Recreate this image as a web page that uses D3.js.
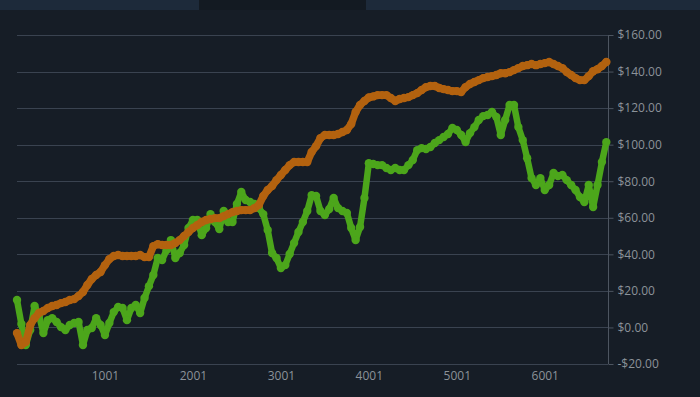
<!DOCTYPE html>
<html>
<head>
<meta charset="utf-8">
<script src="https://cdn.jsdelivr.net/npm/d3@7/dist/d3.min.js"></script>
<style>
  html, body { margin: 0; padding: 0; background: #161d26; }
  svg { display: block; }
</style>
</head>
<body>
<svg id="chart" width="700" height="397"></svg>
<script>
// ---- data ----
const tradeStart = 1;
const tradeStep = 50;
const xTickValues = [1001, 2001, 3001, 4001, 5001, 6001];
const yTickValues = [-20, 0, 20, 40, 60, 80, 100, 120, 140, 160];

// equity curve A (orange)
const seriesOrange = [
  -3.1, -9.6, -8.0, 1.3, 5.1, 7.9, 9.0, 10.6, 11.7, 12.3, 13.3, 13.9, 15.0, 15.5, 17.2, 19.4, 23.2, 26.5, 28.7, 30.3,
  34.1, 37.4, 39.1, 39.6, 39.1, 39.1, 39.1, 39.1, 39.6, 38.5, 38.5, 44.5, 45.6, 45.1, 45.1, 45.1, 46.2, 47.8, 50.0, 52.2,
  54.4, 56.0, 57.7, 58.8, 59.3, 59.8, 59.8, 60.9, 62.0, 63.1, 63.7, 64.2, 64.2, 64.2, 65.3, 67.0, 71.9, 75.2, 77.4, 80.6,
  83.4, 86.1, 88.8, 90.5, 90.5, 90.5, 90.5, 96.0, 99.2, 103.6, 105.3, 105.3, 105.3, 105.8, 106.9, 108.0, 111.3, 117.9, 121.7, 123.9,
  125.8, 126.4, 127.1, 127.1, 127.1, 125.5, 123.9, 125.0, 125.5, 126.0, 127.1, 128.2, 129.9, 131.5, 132.1, 132.1, 131.0, 130.4, 129.9, 129.3,
  129.3, 128.8, 131.5, 133.2, 134.3, 135.3, 136.4, 137.0, 137.5, 138.1, 139.1, 139.1, 139.7, 140.8, 141.9, 143.0, 143.5, 144.1, 143.5, 144.1,
  144.6, 145.2, 144.1, 143.0, 141.9, 139.7, 138.1, 136.4, 135.3, 135.3, 137.5, 140.2, 141.3, 143.0, 145.2
];

// equity curve B (green)
const seriesGreen = [
  15.0, 1.9, -9.6, -1.4, 11.7, 6.8, -3.1, 4.0, 5.1, 3.0, 0.2, -1.4, 1.3, 2.4, 3.0, -9.6, -1.4, -0.3, 5.1, 1.3,
  -4.2, 2.4, 8.4, 11.2, 10.6, 4.0, 10.6, 12.3, 7.9, 16.1, 22.6, 28.7, 38.0, 36.9, 42.3, 47.8, 38.0, 40.7, 45.1, 54.4,
  58.8, 58.8, 50.5, 54.4, 62.0, 57.7, 53.8, 63.7, 57.7, 57.7, 67.5, 74.1, 69.7, 68.6, 67.5, 65.3, 62.0, 53.3, 40.7, 38.0,
  32.5, 34.1, 40.2, 46.2, 52.2, 57.7, 63.7, 72.4, 71.9, 63.7, 61.5, 64.8, 70.8, 65.3, 63.7, 62.6, 54.4, 47.8, 55.0, 70.8,
  89.9, 89.4, 88.8, 88.8, 87.2, 86.1, 87.2, 86.1, 86.1, 88.8, 91.6, 97.0, 98.1, 97.6, 98.7, 100.9, 102.5, 104.2, 105.8, 109.1,
  108.0, 105.3, 101.4, 106.3, 109.6, 113.5, 115.6, 116.2, 117.9, 115.1, 105.3, 113.5, 121.7, 121.7, 109.6, 102.5, 92.6, 81.7, 77.9, 81.7,
  75.2, 77.9, 84.5, 82.8, 83.4, 80.6, 77.9, 75.2, 71.3, 68.6, 77.9, 65.9, 77.9, 90.5, 101.4
];

// ---- drawing ----
const W = 700, H = 397;
const svg = d3.select("#chart");
const colors = { bg: "#161d26", tabLight: "#1d2a3a", tabDark: "#131a22", grid: "#3a4350", axis: "#4d5560", text: "#8b9299",
                 orange: "#b3620f", green: "#4ca61b" };

svg.append("rect").attr("width", W).attr("height", H).attr("fill", colors.bg);
// top tab strip
svg.append("rect").attr("x", 0).attr("y", 0).attr("width", 199).attr("height", 10).attr("fill", colors.tabLight);
svg.append("rect").attr("x", 199).attr("y", 0).attr("width", 167).attr("height", 10).attr("fill", colors.tabDark);
svg.append("rect").attr("x", 366).attr("y", 0).attr("width", 334).attr("height", 10).attr("fill", colors.tabLight);

const x = d3.scaleLinear().domain([tradeStart, 6720]).range([17, 608]);
const y = d3.scaleLinear().domain([-20, 160]).range([364, 35]);

// gridlines
svg.append("g").selectAll("line").data(yTickValues).join("line")
  .attr("x1", 17).attr("x2", 608)
  .attr("y1", d => Math.round(y(d)) + 0.5).attr("y2", d => Math.round(y(d)) + 0.5)
  .attr("stroke", colors.grid).attr("stroke-width", 1);

// right axis
const yAxis = d3.axisRight(y).tickValues(yTickValues).tickSize(5).tickPadding(4)
  .tickFormat(d => (d < 0 ? "-$" : "$") + Math.abs(d).toFixed(2));
const gy = svg.append("g").attr("transform", "translate(608.5,0)").call(yAxis);
gy.select(".domain").attr("stroke", colors.axis).attr("d", `M0,${y(160)}V${y(-20)}`);
gy.selectAll(".tick line").attr("stroke", colors.axis);
gy.selectAll(".tick text").attr("fill", colors.text).style("font-family", "'Open Sans', sans-serif").style("font-size", "12px");

// bottom axis (labels only)
const xAxis = d3.axisBottom(x).tickValues(xTickValues).tickSize(0).tickPadding(7).tickFormat(d3.format("d"));
const gx = svg.append("g").attr("transform", `translate(0,${y(-20)})`).call(xAxis);
gx.select(".domain").remove();
gx.selectAll(".tick text").attr("fill", colors.text).style("font-family", "'Open Sans', sans-serif").style("font-size", "12px");

function drawSeries(values, color, width, r) {
  const pts = values.map((v, i) => [tradeStart + i * tradeStep, v]);
  const g = svg.append("g");
  g.append("path").datum(pts)
    .attr("fill", "none").attr("stroke", color).attr("stroke-width", width)
    .attr("stroke-linejoin", "round").attr("stroke-linecap", "round")
    .attr("d", d3.line().x(d => x(d[0])).y(d => y(d[1])));
  g.selectAll("circle").data(pts).join("circle")
    .attr("cx", d => x(d[0])).attr("cy", d => y(d[1])).attr("r", r).attr("fill", color);
}
drawSeries(seriesGreen, colors.green, 6.5, 4.2);
drawSeries(seriesOrange, colors.orange, 7.5, 4.2);
</script>
</body>
</html>
